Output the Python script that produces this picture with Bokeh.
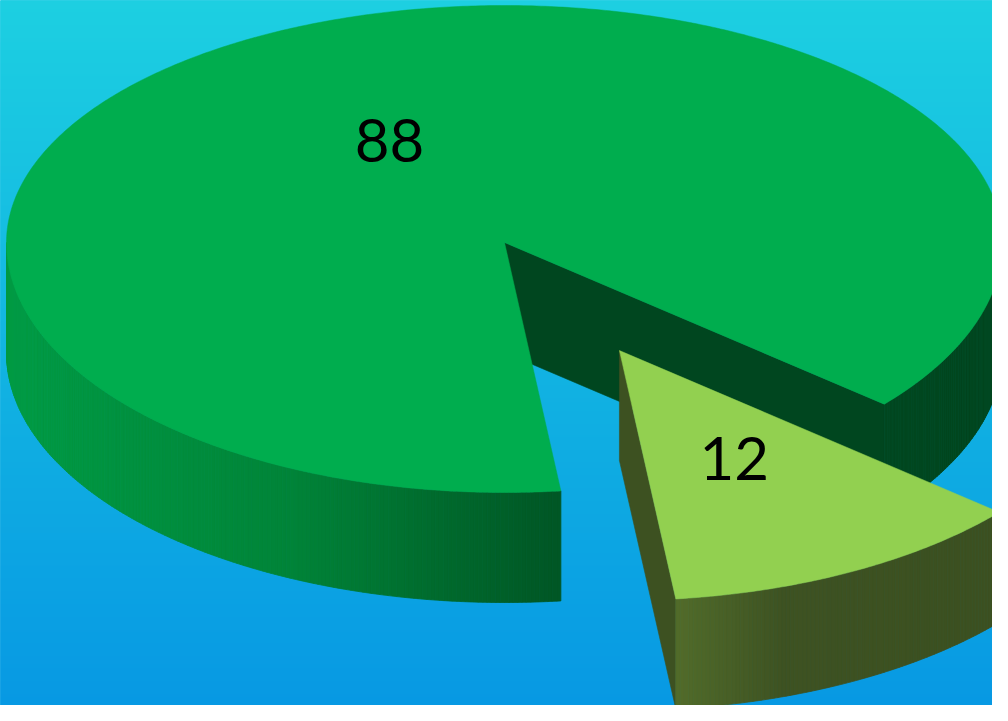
import numpy as np
from bokeh.plotting import figure
from bokeh.models import Range1d, ColumnDataSource
from bokeh.core.properties import value
from bokeh.embed import file_html
from bokeh.resources import INLINE

# ---------------- data ----------------
categories = ["88", "12"]
values = [88, 12]
top_colors = ["#00AD4E", "#92D050"]
face_colors = ["#00461F", "#3D5121"]
explode = [0.0, 0.49]
# side-wall shading stops (normalised x relative to slice centre, rgb)
wall_stop_x = [[-1.0, -0.43, 0.06, 0.3, 1.0], [0.0, 0.11, 0.33, 1.0]]
wall_stop_rgb = [
    [(0, 155, 68), (0, 132, 56), (0, 90, 38), (0, 74, 34), (0, 70, 31)],
    [(84, 110, 44), (82, 108, 42), (62, 82, 34), (58, 78, 32)],
]
bg_top = (29, 208, 225)
bg_bottom = (7, 152, 227)

# ---------------- layout ----------------
CX, CY = 512.0, 250.0
RX = 498.0
RY_BACK, RY_FRONT = 237.0, 250.0
DEPTH = 110.0
START_DEG = 276.5          # first slice starts here, slices run clockwise
LABEL_R = 0.49
FONT_PX = 60

W, H = 992, 705
p = figure(width=W, height=H, x_range=Range1d(8, 1000), y_range=Range1d(713, 8),
           output_backend="svg", toolbar_location=None, min_border=0,
           x_axis_type=None, y_axis_type=None)
p.grid.visible = False
p.outline_line_color = None
p.background_fill_color = "#11B0E2"
p.border_fill_color = "#11B0E2"


def hexc(rgb):
    return "#%02x%02x%02x" % tuple(int(round(c)) for c in rgb)


# background gradient
ys = np.arange(0, 722, 1.0)
t = ys / 721.0
bg_cols = [hexc([a + (b - a) * tt for a, b in zip(bg_top, bg_bottom)]) for tt in t]
p.quad(left=0, right=1008, top=ys, bottom=ys + 1, fill_color=bg_cols,
       line_color=bg_cols, line_width=1)


def ry(th):
    return RY_BACK if np.sin(th) > 0 else RY_FRONT


def pt(th, ox, oy):
    return ox + RX * np.cos(th), oy - ry(th) * np.sin(th)


total = float(sum(values))
cum = 0.0
slices = []
for i, v in enumerate(values):
    a_from = np.radians(START_DEG) - cum / total * 2 * np.pi
    a_to = a_from - v / total * 2 * np.pi
    cum += v
    lo, hi = a_to, a_from
    mid = 0.5 * (lo + hi)
    ox = CX + explode[i] * RX * np.cos(mid)
    oy = CY - explode[i] * ry(mid) * np.sin(mid)
    slices.append((i, lo, hi, mid, ox, oy))

label_x, label_y = [], []
for (i, lo, hi, mid, ox, oy) in sorted(slices, key=lambda s: s[5]):
    # radial face (visible one)
    fxs, fys = [], []
    if np.cos(lo) > 0:
        ex, ey = pt(lo, ox, oy)
        fxs.append([ox, ex, ex, ox])
        fys.append([oy, ey, ey + DEPTH, oy + DEPTH])
    if np.cos(hi) < 0:
        ex, ey = pt(hi, ox, oy)
        fxs.append([ox, ex, ex, ox])
        fys.append([oy, ey, ey + DEPTH, oy + DEPTH])
    if fxs:
        p.patches(fxs, fys, fill_color=face_colors[i], line_color=face_colors[i], line_width=0.6)

    # front outer walls
    wxs, wys, wcs = [], [], []
    for k in range(-2, 3):
        a0 = max(lo, (2 * k - 1) * np.pi)
        a1 = min(hi, 2 * k * np.pi)
        if a1 - a0 <= 1e-6:
            continue
        n = max(2, int(np.degrees(a1 - a0) / 0.5))
        th = np.linspace(a0, a1, n + 1)
        for j in range(n):
            xa, ya = pt(th[j], ox, oy)
            xb, yb = pt(th[j + 1], ox, oy)
            wxs.append([xa, xb, xb, xa])
            wys.append([ya, yb, yb + DEPTH, ya + DEPTH])
            nx = (0.5 * (xa + xb) - ox) / RX
            rgb = [np.interp(nx, wall_stop_x[i], [c[m] for c in wall_stop_rgb[i]]) for m in range(3)]
            wcs.append(hexc(rgb))
    if wxs:
        p.patches(wxs, wys, fill_color=wcs, line_color=wcs, line_width=0.8)

    # top surface
    n = max(8, int(np.degrees(hi - lo) / 0.5))
    th = np.linspace(lo, hi, n + 1)
    tx = [ox] + [pt(a, ox, oy)[0] for a in th]
    ty = [oy] + [pt(a, ox, oy)[1] for a in th]
    p.patch(tx, ty, fill_color=top_colors[i], line_color=top_colors[i], line_width=0.5)

    lx = ox + LABEL_R * RX * np.cos(mid)
    ly = oy - LABEL_R * ry(mid) * np.sin(mid)
    label_x.append((i, lx))
    label_y.append((i, ly))

label_x = [v for _, v in sorted(label_x)]
label_y = [v for _, v in sorted(label_y)]
src = ColumnDataSource(dict(x=label_x, y=label_y, text=categories))
p.text(x="x", y="y", text="text", source=src, text_font=value("Lato"),
       text_font_size=f"{FONT_PX}px", text_align="center",
       text_baseline="middle", text_color="black")

open("out.html", "w").write(file_html(p, INLINE))
